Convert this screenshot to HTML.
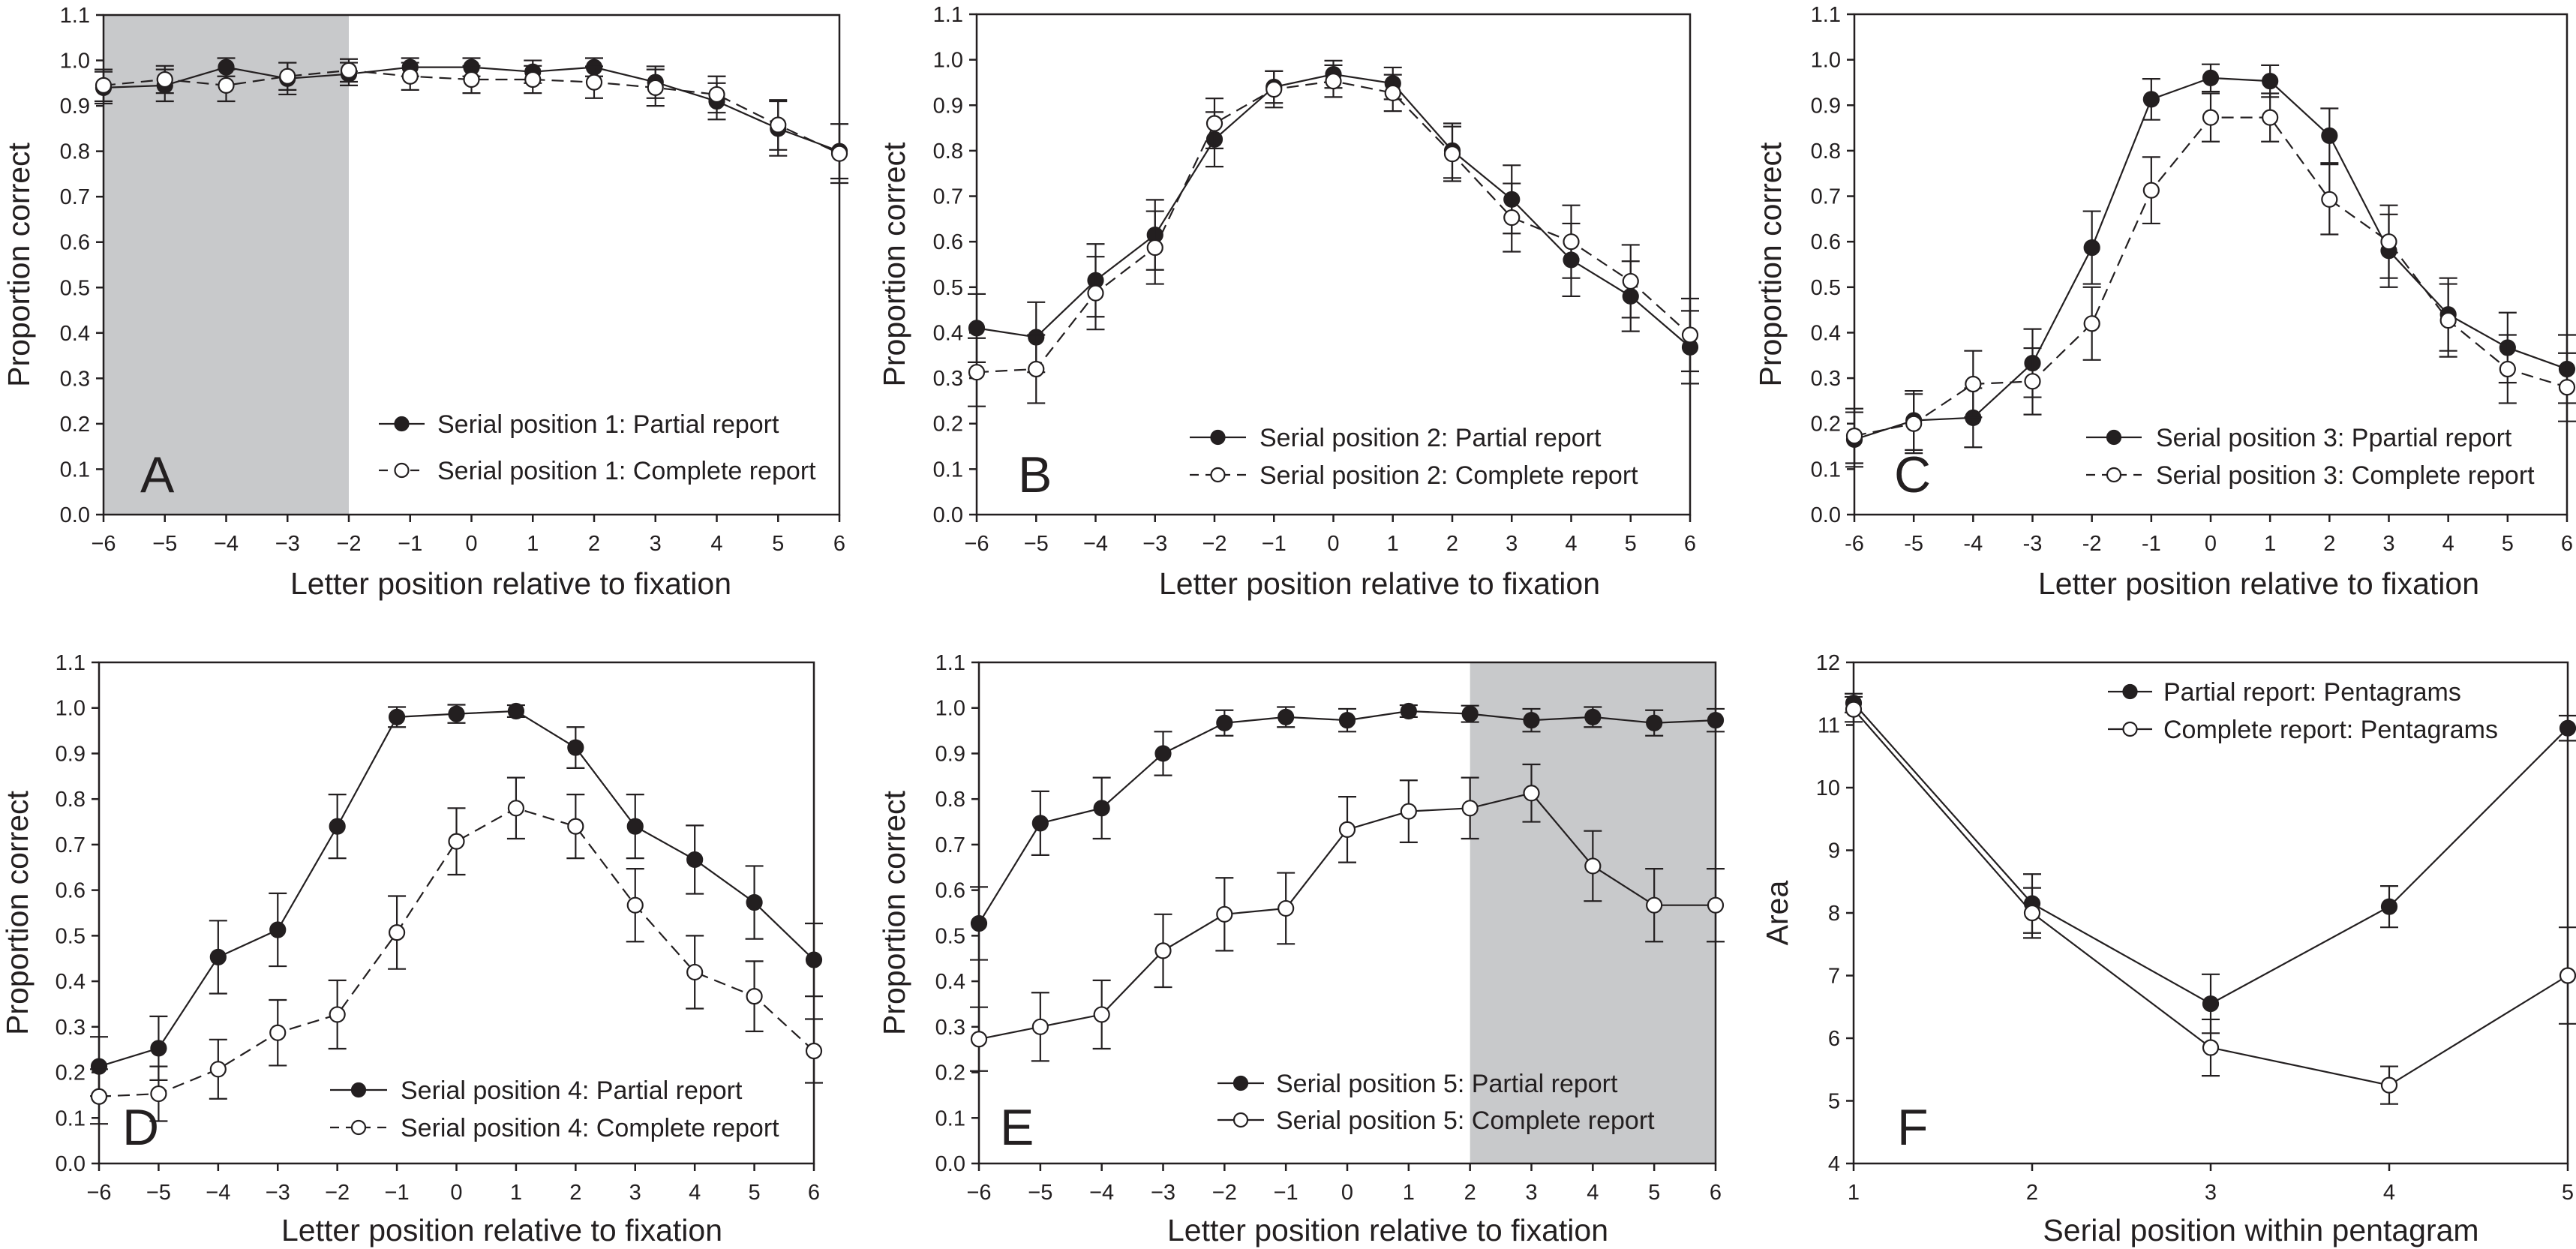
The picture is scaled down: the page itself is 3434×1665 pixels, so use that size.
<!DOCTYPE html>
<html><head><meta charset="utf-8"><style>
html,body{margin:0;padding:0;background:#fff;}
svg{display:block;}
.tk{font-family:"Liberation Sans Narrow","Liberation Sans",sans-serif;font-size:29px;fill:#231f20;}
.yt{font-family:"Liberation Sans",sans-serif;font-size:41px;fill:#231f20;}
.xt{font-family:"Liberation Sans Narrow","Liberation Sans",sans-serif;font-size:41px;fill:#231f20;}
.lg{font-family:"Liberation Sans Narrow","Liberation Sans",sans-serif;font-size:34px;fill:#231f20;}
.pl{font-family:"Liberation Sans",sans-serif;font-size:68px;fill:#231f20;}
</style></head><body>
<svg id="fig" xmlns="http://www.w3.org/2000/svg" width="3434" height="1665" viewBox="0 0 3434 1665"></svg>
<script>
const letterPos=[-6,-5,-4,-3,-2,-1,0,1,2,3,4,5,6];
const serialPos=[1,2,3,4,5];
const aPartial=[.94,.945,.985,.96,.97,.985,.985,.975,.985,.952,.91,.85,.80];
const aPartialErr=[.035,.035,.02,.035,.025,.02,.02,.025,.02,.035,.04,.06,.06];
const aComplete=[.945,.958,.945,.965,.978,.965,.958,.958,.952,.94,.925,.858,.795];
const aCompleteErr=[.035,.03,.035,.03,.025,.03,.03,.03,.035,.04,.04,.055,.065];
const bPartial=[.41,.39,.515,.615,.825,.94,.968,.948,.80,.693,.56,.48,.368];
const bPartialErr=[.075,.077,.08,.077,.06,.035,.03,.035,.06,.075,.08,.077,.08];
const bComplete=[.313,.32,.487,.587,.86,.935,.953,.927,.793,.653,.60,.513,.395];
const bCompleteErr=[.075,.075,.08,.08,.055,.04,.035,.04,.06,.075,.08,.08,.08];
const cPartial=[.165,.207,.213,.333,.587,.913,.96,.953,.833,.58,.44,.367,.32];
const cPartialErr=[.06,.065,.065,.075,.08,.045,.03,.035,.06,.08,.08,.077,.075];
const cComplete=[.173,.2,.287,.293,.42,.713,.873,.873,.693,.60,.427,.32,.28];
const cCompleteErr=[.06,.065,.073,.073,.08,.073,.053,.053,.077,.08,.08,.075,.075];
const dPartial=[.213,.253,.453,.513,.74,.98,.987,.993,.913,.74,.667,.573,.447];
const dPartialErr=[.065,.07,.08,.08,.07,.022,.02,.013,.045,.07,.075,.08,.08];
const dComplete=[.147,.153,.207,.287,.327,.507,.707,.78,.74,.567,.42,.367,.247];
const dCompleteErr=[.06,.06,.065,.072,.075,.08,.073,.067,.07,.08,.08,.077,.07];
const ePartial=[.527,.747,.78,.90,.967,.98,.973,.993,.987,.973,.98,.967,.973];
const ePartialErr=[.08,.07,.067,.048,.028,.022,.025,.013,.018,.025,.022,.028,.025];
const eComplete=[.273,.30,.327,.467,.547,.56,.733,.773,.78,.813,.653,.567,.567];
const eCompleteErr=[.07,.075,.075,.08,.08,.078,.072,.068,.067,.063,.077,.08,.08];
const fPartial=[11.35,8.15,6.55,8.1,10.95];
const fPartialErr=[.15,.47,.47,.33,.2];
const fComplete=[11.25,8.0,5.85,5.25,7.0];
const fCompleteErr=[.2,.4,.45,.3,.77];
const propTicks=["0.0","0.1","0.2","0.3","0.4","0.5","0.6","0.7","0.8","0.9","1.0","1.1"];
const letterTicks=["−6","−5","−4","−3","−2","−1","0","1","2","3","4","5","6"];
const letterTicksC=["-6","-5","-4","-3","-2","-1","0","1","2","3","4","5","6"];
const areaTicks=["4","5","6","7","8","9","10","11","12"];
const serialTicks=["1","2","3","4","5"];

const NS="http://www.w3.org/2000/svg";
const svg=document.getElementById('fig');
function mk(tag,attrs,parent,text){const e=document.createElementNS(NS,tag);for(const k in attrs)e.setAttribute(k,attrs[k]);if(text!==undefined)e.textContent=text;(parent||svg).appendChild(e);return e;}

const panels=[
 {id:'a',L:'A',x0:138,x1:1119,y0:20,y1:686,xs:letterPos,xt:letterTicks,xmin:-6,xmax:6,ymin:0,ymax:1.1,yt:propTicks,
  s:[[aPartial,aPartialErr,true,false],[aComplete,aCompleteErr,false,true]],shade:[-6,-2],
  leg:['Serial position 1: Partial report','Serial position 1: Complete report'],lx:[505,566,583],ly:[565,627],
  letter:[187,656],ytx:25,xtitle:'Letter position relative to fixation',xtc:681,xty:792,ytitle:'Proportion correct'},
 {id:'b',L:'B',x0:1302,x1:2253,y0:19,y1:686,xs:letterPos,xt:letterTicks,xmin:-6,xmax:6,ymin:0,ymax:1.1,yt:propTicks,
  s:[[bPartial,bPartialErr,true,false],[bComplete,bCompleteErr,false,true]],
  leg:['Serial position 2: Partial report','Serial position 2: Complete report'],lx:[1586,1661,1679],ly:[583,633],
  letter:[1357,656],ytx:1192,xtitle:'Letter position relative to fixation',xtc:1839,xty:792,ytitle:'Proportion correct'},
 {id:'c',L:'C',x0:2472,x1:3422,y0:19,y1:686,xs:letterPos,xt:letterTicksC,xmin:-6,xmax:6,ymin:0,ymax:1.1,yt:propTicks,
  s:[[cPartial,cPartialErr,true,false],[cComplete,cCompleteErr,false,true]],
  leg:['Serial position 3: Ppartial report','Serial position 3: Complete report'],lx:[2781,2855,2874],ly:[583,633],
  letter:[2525,656],ytx:2360,xtitle:'Letter position relative to fixation',xtc:3011,xty:792,ytitle:'Proportion correct'},
 {id:'d',L:'D',x0:132,x1:1085,y0:883,y1:1551,xs:letterPos,xt:letterTicks,xmin:-6,xmax:6,ymin:0,ymax:1.1,yt:propTicks,
  s:[[dPartial,dPartialErr,true,false],[dComplete,dCompleteErr,false,true]],
  leg:['Serial position 4: Partial report','Serial position 4: Complete report'],lx:[440,516,534],ly:[1453,1503],
  letter:[163,1526],ytx:23,xtitle:'Letter position relative to fixation',xtc:669,xty:1654,ytitle:'Proportion correct'},
 {id:'e',L:'E',x0:1305,x1:2287,y0:883,y1:1551,xs:letterPos,xt:letterTicks,xmin:-6,xmax:6,ymin:0,ymax:1.1,yt:propTicks,
  s:[[ePartial,ePartialErr,true,false],[eComplete,eCompleteErr,false,false]],shade:[2,6],
  leg:['Serial position 5: Partial report','Serial position 5: Complete report'],lx:[1623,1685,1701],ly:[1444,1493],
  letter:[1333,1526],ytx:1192,xtitle:'Letter position relative to fixation',xtc:1850,xty:1654,ytitle:'Proportion correct'},
 {id:'f',L:'F',x0:2471,x1:3423,y0:883,y1:1551,xs:serialPos,xt:serialTicks,xmin:1,xmax:5,ymin:4,ymax:12,yt:areaTicks,
  s:[[fPartial,fPartialErr,true,false],[fComplete,fCompleteErr,false,false]],
  leg:['Partial report: Pentagrams','Complete report: Pentagrams'],lx:[2810,2869,2884],ly:[922,972],
  letter:[2529,1526],ytx:2369,xtitle:'Serial position within pentagram',xtc:3014,xty:1654,ytitle:'Area'}
];

panels.forEach(p=>{
 const g=mk('g',{});
 
 
 const X=v=>p.x0+(v-p.xmin)/(p.xmax-p.xmin)*(p.x1-p.x0);
 const Y=v=>p.y1-(v-p.ymin)/(p.ymax-p.ymin)*(p.y1-p.y0);
 if(p.shade){const r=mk('rect',{x:X(p.shade[0]),y:p.y0,width:X(p.shade[1])-X(p.shade[0]),height:p.y1-p.y0,fill:'#c8c9cb'},g);
  }
 const fr=mk('rect',{x:p.x0,y:p.y0,width:p.x1-p.x0,height:p.y1-p.y0,fill:'none',stroke:'#231f20','stroke-width':2.5},g);
 
 p.yt.forEach((t,i)=>{const v=p.ymin+i*(p.ymax-p.ymin)/(p.yt.length-1);const y=Y(v);
  mk('line',{x1:p.x0-10,x2:p.x0,y1:y,y2:y,stroke:'#231f20','stroke-width':2.5},g);
  const tx=mk('text',{x:p.x0-18,y:y+10,'text-anchor':'end',class:'tk'},g,t);
  });
 p.xs.forEach((v,i)=>{const x=X(v);
  mk('line',{x1:x,x2:x,y1:p.y1,y2:p.y1+10,stroke:'#231f20','stroke-width':2.5},g);
  const tx=mk('text',{x:x,y:p.y1+48,'text-anchor':'middle',class:'tk'},g,p.xt[i]);
  });
 const yt=mk('text',{x:p.ytx+14,y:(p.y0+p.y1)/2,'text-anchor':'middle',class:'yt',transform:`rotate(-90 ${p.ytx+14} ${(p.y0+p.y1)/2})`},g,p.ytitle);
 
 const xt=mk('text',{x:p.xtc,y:p.xty,'text-anchor':'middle',class:'xt'},g,p.xtitle);
 
 const lt=mk('text',{x:p.letter[0],y:p.letter[1],class:'pl'},g,p.L);
 
 p.s.forEach((s,si)=>{const [vals,errs,filled,dashed]=s;
  const sg=mk('g',{},g);
  
  
  vals.forEach((v,i)=>{const x=X(p.xs[i]);const yh=Y(v+errs[i]),yl=Y(v-errs[i]);
   mk('line',{x1:x,x2:x,y1:yh,y2:yl,stroke:'#231f20','stroke-width':2.2},sg);
   mk('line',{x1:x-12,x2:x+12,y1:yh,y2:yh,stroke:'#231f20','stroke-width':2.2},sg);
   mk('line',{x1:x-12,x2:x+12,y1:yl,y2:yl,stroke:'#231f20','stroke-width':2.2},sg);});
  const pts=vals.map((v,i)=>X(p.xs[i])+','+Y(v)).join(' ');
  const pl=mk('polyline',{points:pts,fill:'none',stroke:'#231f20','stroke-width':2.2},sg);
  if(dashed)pl.setAttribute('stroke-dasharray','16,9');
  vals.forEach((v,i)=>{const c=mk('circle',{cx:X(p.xs[i]),cy:Y(v),r:10,fill:filled?'#231f20':'#fff',stroke:'#231f20','stroke-width':2.2},sg);
   });
 });
 p.leg.forEach((t,i)=>{const y=p.ly[i];const lg=mk('g',{},g);
  
  const ln=mk('line',{x1:p.lx[0],x2:p.lx[1],y1:y,y2:y,stroke:'#231f20','stroke-width':2.2},lg);
  if(p.s[i][3])ln.setAttribute('stroke-dasharray','12,9');
  mk('circle',{cx:(p.lx[0]+p.lx[1])/2,cy:y,r:9,fill:i===0?'#231f20':'#fff',stroke:'#231f20','stroke-width':2.2},lg);
  mk('text',{x:p.lx[2],y:y+12,class:'lg'},lg,t);});
});
</script>
</body></html>
